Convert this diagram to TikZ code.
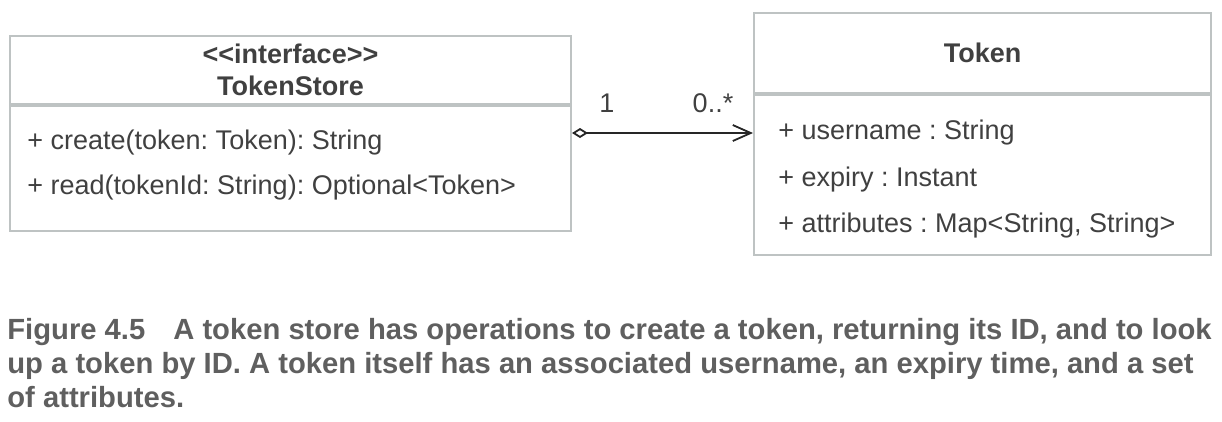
\documentclass[tikz,border=0pt]{standalone}
\usepackage{fontspec}
\setmainfont{Liberation Sans}
\frenchspacing
\usetikzlibrary{positioning}
\usetikzlibrary{arrows.meta}
\definecolor{boxC}{RGB}{190,195,195}
\definecolor{txtC}{RGB}{64,64,64}
\definecolor{capC}{RGB}{95,95,95}
\tikzstyle{hdr}=[draw=boxC,line width=1pt,node distance=0pt,shape=rectangle,inner sep=0pt,align=center,text=txtC,font=\bfseries\fontsize{13.5}{16}\selectfont]
\tikzstyle{bdy}=[draw=boxC,line width=1pt,node distance=0pt,shape=rectangle,inner sep=0pt]
\tikzstyle{mbr}=[anchor=base west,inner sep=0pt,text=txtC,font=\fontsize{13.5}{16}\selectfont]
\tikzstyle{mlt}=[anchor=base,inner sep=0pt,text=txtC,font=\fontsize{13.5}{16}\selectfont]
\tikzstyle{captxt}=[anchor=base west,inner sep=0pt,text=capC,font=\bfseries\fontsize{14.6}{17}\selectfont]
\tikzstyle{assoc}=[line width=0.9pt,color=black!85,{Diamond[open,fill=white,length=8pt,width=5pt]}-{Straight Barb[length=9pt,width=8pt]}]
\def\hdr{\node[style=hdr]}
\def\bdy{\node[style=bdy]}
\def\mbr{\node[style=mbr]}
\def\mlt{\node[style=mlt]}
\def\captxt{\node[style=captxt]}

\begin{document}
\begin{tikzpicture}[x=0.5pt,y=-0.5pt]
      \useasboundingbox (0,0) rectangle (1222,422);
      % token store
      \hdr (storeHead) at (290.5,70) [minimum width=280.5pt,minimum height=34pt] {<{}<interface>{}>\\TokenStore};
      \bdy (storeBody) [below=of storeHead,minimum width=280.5pt,minimum height=62.5pt] {};
      \mbr (create) at (27,150) {+ create(token: Token): String};
      \mbr (read)   at (27,195) {+ read(tokenId: String): Optional<Token>};
      % token
      \hdr (tokenHead) at (982.5,53) [minimum width=228.5pt,minimum height=40pt] {Token};
      \bdy (tokenBody) [below=of tokenHead,minimum width=228.5pt,minimum height=80pt] {};
      \mbr (username) at (778,140) {+ username : String};
      \mbr (expiry)   at (778,187) {+ expiry : Instant};
      \mbr (attrs)    at (778,233) {+ attributes : Map<String, String>};
      % association
      \draw[style=assoc] (storeBody.east |- username.west) -- (tokenBody.west |- username.west);
      \mlt (multOne)  at (607,113) {1};
      \mlt (multMany) at (713,113) {0..*};
      % caption
      \captxt (capOne)   at (7,340) {Figure 4.5\hspace{14pt}A token store has operations to create a token, returning its ID, and to look};
      \captxt (capTwo)   at (7,374) {up a token by ID. A token itself has an associated username, an expiry time, and a set};
      \captxt (capThree) at (7,408) {of attributes.};
\end{tikzpicture}
\end{document}
